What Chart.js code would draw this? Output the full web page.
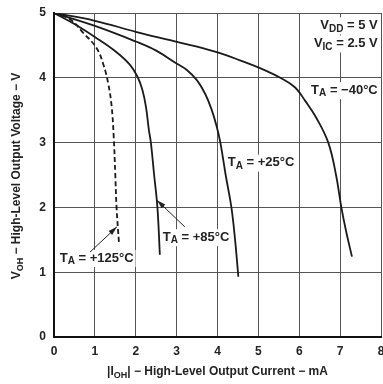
<!DOCTYPE html>
<html>
<head>
<meta charset="utf-8">
<script src="https://cdn.jsdelivr.net/npm/chart.js@4.4.1/dist/chart.umd.min.js"></script>
<style>
html,body{margin:0;padding:0;background:#fff;}
#wrap{width:383px;height:384px;position:relative;}
</style>
</head>
<body>
<div id="wrap"><canvas id="c" width="383" height="384"></canvas></div>
<script>
// Data (x = |IOH| mA, y = VOH V)
const tempLabels = ['−40°C', '+25°C', '+85°C', '+125°C'];
const curveM40 = [[0,5],[1,4.88],[2,4.71],[2.84,4.58],[3.5,4.48],[4.06,4.38],[4.55,4.27],[5.04,4.15],[5.57,3.99],[5.9,3.85],[6.15,3.64],[6.42,3.38],[6.71,3.0],[6.9,2.5],[7.03,2.0],[7.15,1.62],[7.29,1.24]];
const curveP25 = [[0,5],[1,4.8],[2,4.56],[2.5,4.42],[3,4.22],[3.25,4.12],[3.5,3.96],[3.7,3.75],[3.85,3.52],[3.98,3.25],[4.07,3.0],[4.2,2.5],[4.34,2.0],[4.43,1.5],[4.51,0.93]];
const curveP85 = [[0,5],[0.5,4.83],[1,4.63],[1.5,4.41],[1.86,4.2],[2.04,4.02],[2.16,3.82],[2.25,3.55],[2.32,3.2],[2.37,3.0],[2.45,2.5],[2.53,2.0],[2.59,1.27]];
const curveP125 = [[0,5],[0.4,4.9],[0.72,4.69],[1.04,4.46],[1.21,4.2],[1.33,3.9],[1.41,3.56],[1.46,3.1],[1.5,2.5],[1.53,2.0],[1.59,1.45]];
const xTicks = [0,1,2,3,4,5,6,7,8];
const yTicks = [0,1,2,3,4,5];

const FONT = '"Liberation Sans", Arial, Helvetica, sans-serif';
const toPts = a => a.map(p => ({x:p[0], y:p[1]}));

function richWidth(ctx, segs, size, subSize){
  let w = 0;
  for (const s of segs){
    ctx.font = 'bold ' + (s.sub ? subSize : size) + 'px ' + FONT;
    w += ctx.measureText(s.t).width;
  }
  return w;
}
function drawRich(ctx, segs, x, y, size, subSize, align){
  const w = richWidth(ctx, segs, size, subSize);
  let cx = align === 'right' ? x - w : (align === 'center' ? x - w/2 : x);
  ctx.textBaseline = 'middle';
  ctx.textAlign = 'left';
  for (const s of segs){
    ctx.font = 'bold ' + (s.sub ? subSize : size) + 'px ' + FONT;
    ctx.fillText(s.t, cx, s.sub ? y + 3.5 : y);
    cx += ctx.measureText(s.t).width;
  }
}

const annot = {
  id: 'annot',
  beforeDatasetsDraw(chart){
    const ctx = chart.ctx;
    const xs = chart.scales.x, ys = chart.scales.y;
    const P = (x, y) => [xs.getPixelForValue(x), ys.getPixelForValue(y)];
    ctx.save();
    const labels = [
      {segs:[{t:'V'},{t:'DD',sub:true},{t:' = 5 V'}], at:[7.92,4.81], align:'right'},
      {segs:[{t:'V'},{t:'IC',sub:true},{t:' = 2.5 V'}], at:[7.92,4.53], align:'right'},
      {segs:[{t:'T'},{t:'A',sub:true},{t:' = ' + tempLabels[0]}], at:[7.92,3.81], align:'right'},
      {segs:[{t:'T'},{t:'A',sub:true},{t:' = ' + tempLabels[1]}], at:[4.25,2.69], align:'left'},
      {segs:[{t:'T'},{t:'A',sub:true},{t:' = ' + tempLabels[2]}], at:[2.66,1.54], align:'left'},
      {segs:[{t:'T'},{t:'A',sub:true},{t:' = ' + tempLabels[3]}], at:[0.14,1.22], align:'left'}
    ];
    for (const l of labels){
      const [px, py] = P(l.at[0], l.at[1]);
      const w = richWidth(ctx, l.segs, 13, 10);
      const x0 = l.align === 'right' ? px - w : px;
      ctx.fillStyle = '#fff';
      ctx.fillRect(x0 - 2, py - 8, w + 4, 17);
      ctx.fillStyle = '#222';
      drawRich(ctx, l.segs, px, py, 13, 10, l.align);
    }
    const arrows = [
      {from:[0.88,1.31], to:[1.54,1.70]},
      {from:[3.2,1.70], to:[2.52,2.11]}
    ];
    ctx.strokeStyle = '#222';
    ctx.fillStyle = '#222';
    ctx.lineWidth = 1;
    for (const a of arrows){
      const [x1,y1] = P(a.from[0], a.from[1]);
      const [x2,y2] = P(a.to[0], a.to[1]);
      const ang = Math.atan2(y2-y1, x2-x1);
      ctx.beginPath(); ctx.moveTo(x1,y1); ctx.lineTo(x2,y2); ctx.stroke();
      const L = 9, W = 2.6;
      ctx.beginPath();
      ctx.moveTo(x2,y2);
      ctx.lineTo(x2 - L*Math.cos(ang) + W*Math.sin(ang), y2 - L*Math.sin(ang) - W*Math.cos(ang));
      ctx.lineTo(x2 - L*Math.cos(ang) - W*Math.sin(ang), y2 - L*Math.sin(ang) + W*Math.cos(ang));
      ctx.closePath(); ctx.fill();
    }
    ctx.restore();
  },
  afterDraw(chart){
    const ctx = chart.ctx;
    const ca = chart.chartArea;
    ctx.save();
    ctx.fillStyle = '#222';
    drawRich(ctx, [{t:'|I'},{t:'OH',sub:true},{t:'| − High-Level Output Current − mA'}], (ca.left+ca.right)/2, 372, 12, 9, 'center');
    ctx.translate(17, (ca.top+ca.bottom)/2 + 1);
    ctx.rotate(-Math.PI/2);
    drawRich(ctx, [{t:'V'},{t:'OH',sub:true},{t:' − High-Level Output Voltage − V'}], 0, 0, 12, 9, 'center');
    ctx.restore();
  }
};

function zeroPad(s){ s.paddingLeft = 0; s.paddingRight = 0; s.paddingTop = 0; s.paddingBottom = 0; }

new Chart(document.getElementById('c'), {
  type: 'line',
  data: {
    datasets: [
      {label: tempLabels[0], data: toPts(curveM40)},
      {label: tempLabels[1], data: toPts(curveP25)},
      {label: tempLabels[2], data: toPts(curveP85)},
      {label: tempLabels[3], data: toPts(curveP125), borderDash:[5,3]}
    ].map(d => Object.assign({borderColor:'#1a1a1a', borderWidth:1.8, pointRadius:0, fill:false, tension:0.4}, d))
  },
  options: {
    responsive: false,
    animation: false,
    devicePixelRatio: 1,
    layout: {padding: {left:0, right:2, top:13, bottom:0}},
    plugins: {legend:{display:false}, tooltip:{enabled:false}},
    scales: {
      x: {
        type: 'linear', min: 0, max: 8,
        afterBuildTicks: s => { s.ticks = xTicks.map(v => ({value:v})); },
        afterFit: s => { s.height = 47; zeroPad(s); },
        grid: {color:'#555', lineWidth:1, drawTicks:false},
        border: {color:'#111', width:2},
        ticks: {color:'#222', padding:7, font:{family:FONT, size:12, weight:'bold'}}
      },
      y: {
        type: 'linear', min: 0, max: 5,
        afterBuildTicks: s => { s.ticks = yTicks.map(v => ({value:v})); },
        afterFit: s => { s.width = 54; zeroPad(s); },
        grid: {color:'#555', lineWidth:1, drawTicks:false},
        border: {color:'#111', width:2},
        ticks: {color:'#222', padding:8, font:{family:FONT, size:12, weight:'bold'}}
      }
    }
  },
  plugins: [annot]
});
</script>
</body>
</html>
